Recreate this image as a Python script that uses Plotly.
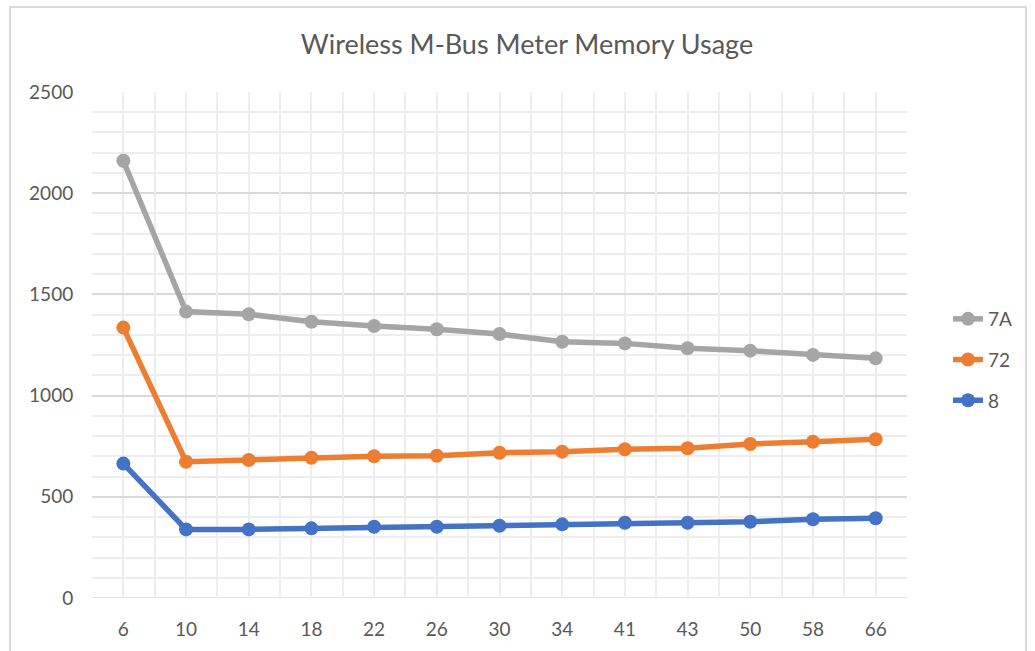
import plotly.graph_objects as go

# Meter record sizes and memory usage per protocol variant
categories = ["6", "10", "14", "18", "22", "26", "30", "34", "41", "43", "50", "58", "66"]
usage_7a = [2160, 1415, 1402, 1365, 1344, 1328, 1304, 1266, 1258, 1234, 1222, 1201, 1184]
usage_72 = [1336, 673, 682, 693, 700, 703, 718, 723, 735, 740, 761, 772, 784]
usage_8 = [664, 339, 339, 344, 352, 352, 357, 364, 372, 372, 377, 389, 394]

series = [
    ("7A", usage_7a, "#A5A5A5"),
    ("72", usage_72, "#ED7D31"),
    ("8", usage_8, "#4472C4"),
]

FONT = "Lato, 'Open Sans', sans-serif"
TEXT = "#595959"

fig = go.Figure()
for name, vals, color in series:
    fig.add_trace(go.Scatter(
        x=categories, y=vals, name=name, legendgroup=name,
        mode="lines+markers",
        line=dict(color=color, width=5.5),
        marker=dict(color=color, size=14),
    ))

W, H = 1035, 651
L, R, T, B = 92, 128, 92, 53
pw, ph = W - L - R, H - T - B

def px_x(p):
    return (p - L) / pw

def px_y(p):
    return (H - B - p) / ph

fig.update_layout(
    width=W, height=H,
    margin=dict(l=L, r=R, t=T, b=B),
    paper_bgcolor="white", plot_bgcolor="white",
    font=dict(family=FONT, color=TEXT, size=19),
    title=dict(text="Wireless M-Bus Meter Memory Usage", x=527 / W, xanchor="center",
               y=1 - 45 / H, yanchor="middle",
               font=dict(family=FONT, size=27, color=TEXT)),
    legend=dict(x=px_x(948), y=px_y(300), xanchor="left", yanchor="top",
                font=dict(size=19, color=TEXT), tracegroupgap=13,
                bgcolor="rgba(0,0,0,0)"),
    showlegend=True,
    xaxis=dict(
        type="category", categoryorder="array", categoryarray=categories,
        range=[-0.5, len(categories) - 0.5],
        showgrid=True, gridcolor="#EDEDED", gridwidth=1.5,
        showline=False, zeroline=False,
        ticks="outside", ticklen=14, tickcolor="rgba(0,0,0,0)",
        tickfont=dict(size=19, color=TEXT),
    ),
    xaxis2=dict(
        type="category", categoryorder="array", categoryarray=categories,
        overlaying="x", matches="x", tickson="boundaries",
        range=[-0.5, len(categories) - 0.5],
        showgrid=True, gridcolor="#EDEDED", gridwidth=1.5,
        showticklabels=False, ticks="", showline=False, zeroline=False,
    ),
    yaxis=dict(
        range=[0, 2500], dtick=500, tick0=0,
        showgrid=True, gridcolor="#D9D9D9", gridwidth=1.5,
        minor=dict(dtick=100, showgrid=True, gridcolor="#EDEDED", gridwidth=1.5),
        zeroline=False, showline=False,
        ticks="outside", ticklen=14, tickcolor="rgba(0,0,0,0)",
        tickfont=dict(size=19, color=TEXT),
    ),
)

# Boundary grid on the secondary category axis
fig.add_trace(go.Scatter(x=categories, y=[None] * len(categories), xaxis="x2",
                         showlegend=False, hoverinfo="skip"))

# Bottom axis line
fig.add_shape(type="line", xref="paper", yref="y", x0=0, x1=1, y0=0, y1=0,
              line=dict(color="#D9D9D9", width=1.5), layer="below")

# Chart frame
fig.add_shape(type="rect", xref="paper", yref="paper",
              x0=px_x(10), x1=px_x(1026), y0=px_y(700), y1=px_y(7),
              line=dict(color="#D9D9D9", width=2), fillcolor="rgba(0,0,0,0)")

fig.write_html("out.html")
